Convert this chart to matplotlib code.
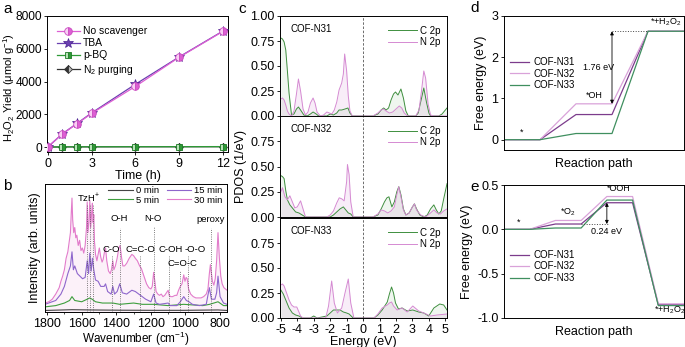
import numpy as np
import matplotlib
matplotlib.use('Agg')
import matplotlib.pyplot as plt
from matplotlib.ticker import MultipleLocator, FixedLocator, NullFormatter

plt.rcParams['font.family'] = ['Liberation Sans', 'DejaVu Sans']
plt.rcParams['mathtext.fontset'] = 'custom'
plt.rcParams['mathtext.rm'] = 'Liberation Sans'
plt.rcParams['mathtext.it'] = 'Liberation Sans:italic'
plt.rcParams['mathtext.bf'] = 'Liberation Sans:bold'
plt.rcParams['axes.unicode_minus'] = False
plt.rcParams['axes.linewidth'] = 0.7
for ax_ in ('xtick', 'ytick'):
    plt.rcParams[ax_ + '.direction'] = 'out'
    plt.rcParams[ax_ + '.major.size'] = 2.5
    plt.rcParams[ax_ + '.minor.size'] = 1.5
    plt.rcParams[ax_ + '.major.width'] = 0.6
    plt.rcParams[ax_ + '.minor.width'] = 0.5
    plt.rcParams[ax_ + '.labelsize'] = 9
    plt.rcParams[ax_ + '.major.pad'] = 1.5

# ---------------- data: panel a ----------------
time_h = [0, 1, 2, 3, 6, 9, 12]
no_scavenger = [0, 800, 1420, 2050, 3700, 5480, 7060]
tba = [0, 810, 1440, 2080, 3830, 5500, 7080]
pbq = [0, 15, 20, 20, 25, 25, 30]
n2_purging = [0, 10, 12, 15, 18, 20, 22]

# ---------------- data: panel b (Raman-like spectra) ----------------
w30 = [1812, 1790, 1770, 1750, 1730, 1720, 1710, 1700, 1690, 1680, 1672, 1665, 1660, 1656, 1652,
       1646, 1640, 1634, 1628, 1620, 1612, 1604, 1596, 1588, 1580, 1572, 1568, 1564, 1558, 1553,
       1548, 1542, 1538, 1534, 1530, 1526, 1520, 1512, 1505, 1498, 1490, 1482, 1476, 1468, 1462,
       1455, 1445, 1435, 1428, 1420, 1414, 1405, 1395, 1385, 1378, 1370, 1362, 1352, 1340, 1325,
       1310, 1300, 1290, 1278, 1265, 1255, 1245, 1235, 1225, 1212, 1200, 1192, 1184, 1178, 1170,
       1160, 1150, 1140, 1130, 1120, 1110, 1100, 1094, 1085, 1075, 1060, 1050, 1040, 1030, 1020,
       1010, 1003, 996, 990, 982, 970, 955, 940, 925, 910, 895, 880, 870, 862, 856, 850, 844, 836,
       828, 820, 812, 804, 796, 788, 778, 760]
v30 = [0.07, 0.08, 0.10, 0.14, 0.19, 0.24, 0.28, 0.33, 0.42, 0.47, 0.55, 0.62, 0.78, 0.89, 0.72,
       0.62, 0.66, 0.58, 0.60, 0.52, 0.56, 0.48, 0.50, 0.46, 0.52, 0.66, 0.86, 0.62, 0.70, 0.87,
       0.66, 0.78, 0.85, 0.70, 0.76, 0.55, 0.45, 0.40, 0.45, 0.50, 0.43, 0.39, 0.41, 0.47, 0.50,
       0.40, 0.32, 0.30, 0.33, 0.40, 0.33, 0.36, 0.42, 0.50, 0.52, 0.43, 0.36, 0.36, 0.38, 0.42,
       0.45, 0.44, 0.42, 0.40, 0.36, 0.34, 0.30, 0.26, 0.22, 0.19, 0.18, 0.20, 0.31, 0.25, 0.16,
       0.14, 0.13, 0.14, 0.12, 0.13, 0.15, 0.17, 0.13, 0.12, 0.12, 0.13, 0.13, 0.17, 0.20, 0.22,
       0.29, 0.24, 0.27, 0.26, 0.18, 0.14, 0.12, 0.11, 0.11, 0.11, 0.12, 0.14, 0.18, 0.30, 0.37,
       0.30, 0.24, 0.21, 0.26, 0.40, 0.62, 0.42, 0.28, 0.22, 0.19, 0.17]
w15 = [1812, 1750, 1720, 1700, 1680, 1665, 1656, 1648, 1640, 1625, 1610, 1595, 1580, 1568, 1560,
       1553, 1545, 1538, 1530, 1520, 1505, 1490, 1470, 1462, 1450, 1430, 1420, 1410, 1395, 1380,
       1365, 1340, 1310, 1290, 1260, 1230, 1200, 1184, 1170, 1150, 1100, 1090, 1050, 1030, 1010,
       995, 980, 960, 920, 880, 862, 850, 830, 820, 812, 800, 780, 760]
v15 = [0.06, 0.09, 0.14, 0.20, 0.30, 0.36, 0.47, 0.33, 0.36, 0.30, 0.28, 0.26, 0.27, 0.40, 0.30,
       0.46, 0.32, 0.42, 0.33, 0.25, 0.24, 0.20, 0.20, 0.22, 0.16, 0.14, 0.20, 0.14, 0.16, 0.22,
       0.15, 0.14, 0.17, 0.16, 0.13, 0.10, 0.08, 0.14, 0.07, 0.06, 0.07, 0.05, 0.05, 0.08, 0.12,
       0.09, 0.08, 0.06, 0.05, 0.06, 0.19, 0.10, 0.10, 0.15, 0.28, 0.12, 0.07, 0.06]
w5 = [1812, 1750, 1700, 1670, 1656, 1640, 1600, 1568, 1553, 1540, 1520, 1480, 1420, 1380, 1300,
      1250, 1184, 1100, 1010, 900, 860, 812, 780, 760]
v5 = [0.04, 0.05, 0.07, 0.09, 0.12, 0.09, 0.08, 0.10, 0.11, 0.10, 0.08, 0.07, 0.07, 0.06, 0.07,
      0.06, 0.06, 0.05, 0.06, 0.05, 0.06, 0.08, 0.05, 0.05]
w0 = [1812, 1656, 1553, 1380, 1184, 1010, 812, 760]
v0 = [0.012, 0.018, 0.016, 0.014, 0.013, 0.013, 0.016, 0.012]

b_labels = ['TzH$^{+}$', 'O-H', 'N-O', 'peroxy', 'C-O', 'C=C-O', 'C-OH', '-O-O', 'C=O-C']
b_label_w = [1562, 1383, 1187, 855, 1427, 1259, 1086, 946, 1017]
b_label_v = [0.89, 0.73, 0.73, 0.72, 0.49, 0.49, 0.49, 0.49, 0.38]
b_line_w = [1567, 1552, 1533, 1423, 1379, 1263, 1181, 1096, 1032, 988, 855]
b_line_top = [0.84, 0.84, 0.84, 0.44, 0.66, 0.44, 0.67, 0.44, 0.32, 0.44, 0.66]

# ---------------- data: panel c (PDOS) ----------------
n31_c_e = [-5.0, -4.9, -4.8, -4.7, -4.6, -4.5, -4.35, -4.2, -4.05, -3.93, -3.8, -3.6, -3.4, -3.2,
           -3.04, -2.85, -2.7, -2.2, -2.0, -1.8, -1.6, -1.46, -1.3, -1.1, -0.92, -0.8, -0.65,
           0.6, 0.9, 1.1, 1.25, 1.4, 1.55, 1.7, 1.85, 1.97, 2.12, 2.3, 2.45, 2.6, 2.75, 3.2, 3.35,
           3.5, 3.69, 3.85, 4.0, 4.1, 4.6, 4.8, 5.1]
n31_c_v = [0.78, 0.77, 0.74, 0.66, 0.45, 0.23, 0.01, 0.02, 0.07, 0.09, 0.06, 0.01, 0.0, 0.02,
           0.04, 0.02, 0.0, 0.0, 0.02, 0.01, 0.03, 0.06, 0.06, 0.07, 0.08, 0.03, 0.0,
           0.0, 0.02, 0.06, 0.08, 0.06, 0.08, 0.16, 0.22, 0.24, 0.21, 0.27, 0.18, 0.05, 0.0, 0.0,
           0.03, 0.14, 0.28, 0.14, 0.03, 0.0, 0.0, 0.02, 0.08]
n31_n_e = [-5.0, -4.9, -4.8, -4.7, -4.6, -4.5, -4.35, -4.2, -4.05, -3.93, -3.8, -3.65, -3.5, -3.35,
           -3.2, -3.04, -2.92, -2.8, -2.6, -2.4, -2.2, -2.05, -1.9, -1.75, -1.6, -1.46, -1.3,
           -1.2, -1.12, -1.0, -0.9, -0.8, -0.66,
           0.6, 0.9, 1.1, 1.25, 1.4, 1.6, 1.8, 2.0, 2.2, 2.35, 2.5, 2.7, 3.2, 3.4, 3.55, 3.69,
           3.8, 3.95, 4.1, 4.3, 5.1]
n31_n_v = [0.17, 0.18, 0.16, 0.11, 0.05, 0.02, 0.0, 0.05, 0.22, 0.37, 0.25, 0.07, 0.01, 0.04,
           0.13, 0.18, 0.13, 0.04, 0.0, 0.01, 0.04, 0.03, 0.02, 0.06, 0.14, 0.26, 0.33,
           0.42, 0.62, 0.45, 0.2, 0.05, 0.0,
           0.0, 0.03, 0.06, 0.07, 0.05, 0.03, 0.04, 0.07, 0.10, 0.08, 0.03, 0.0, 0.0, 0.06, 0.25,
           0.45, 0.38, 0.12, 0.01, 0.0, 0.0]
n32_c_e = [-5.0, -4.9, -4.8, -4.7, -4.6, -4.45, -4.3, -4.1, -3.9, -3.7, -3.5, -2.0, -1.8, -1.6,
           -1.4, -1.2, -1.05, -0.9, -0.75, -0.6,
           0.6, 0.9, 1.1, 1.3, 1.45, 1.57, 1.75, 1.9, 2.05, 2.17, 2.3, 2.45, 2.6, 2.8, 3.0, 3.12,
           3.25, 3.45, 3.7, 3.9, 4.1, 4.3, 4.45, 4.6, 4.75, 4.9, 5.1]
n32_c_v = [0.41, 0.40, 0.38, 0.26, 0.17, 0.12, 0.09, 0.05, 0.04, 0.02, 0.0, 0.0, 0.02, 0.05,
           0.08, 0.10, 0.07, 0.04, 0.03, 0.0,
           0.0, 0.02, 0.08, 0.15, 0.19, 0.20, 0.10, 0.15, 0.25, 0.30, 0.22, 0.08, 0.02, 0.04, 0.10,
           0.13, 0.08, 0.02, 0.0, 0.02, 0.08, 0.12, 0.07, 0.03, 0.06, 0.18, 0.33]
n32_n_e = [-5.0, -4.9, -4.75, -4.6, -4.45, -4.3, -4.15, -4.0, -3.8, -3.65, -3.5, -2.2, -2.0, -1.8,
           -1.6, -1.45, -1.3, -1.15, -1.0, -0.95, -0.85, -0.75, -0.6,
           0.6, 0.9, 1.1, 1.3, 1.5, 1.7, 1.9, 2.05, 2.17, 2.3, 2.45, 2.6, 2.8, 3.0, 3.12, 3.25,
           3.5, 3.8, 4.1, 4.3, 4.5, 4.7, 4.9, 5.1]
n32_n_v = [0.25, 0.29, 0.20, 0.17, 0.21, 0.15, 0.09, 0.10, 0.16, 0.08, 0.0, 0.0, 0.02, 0.06,
           0.14, 0.19, 0.18, 0.16, 0.35, 0.52, 0.42, 0.15, 0.0,
           0.0, 0.03, 0.07, 0.06, 0.04, 0.06, 0.10, 0.22, 0.30, 0.20, 0.07, 0.02, 0.04, 0.10,
           0.13, 0.07, 0.02, 0.0, 0.04, 0.07, 0.04, 0.03, 0.06, 0.08]
n33_c_e = [-5.0, -4.85, -4.7, -4.5, -4.3, -4.1, -3.9, -3.7, -3.2, -3.0, -2.8, -2.2, -2.0, -1.8,
           -1.6, -1.4, -1.2, -1.0, -0.85, -0.6,
           0.66, 0.9, 1.16, 1.47, 1.6, 1.73, 1.85, 1.97, 2.15, 2.37, 2.68, 3.02, 3.38, 3.69, 3.99,
           4.3, 4.66, 4.9, 5.1]
n33_c_v = [0.28, 0.24, 0.18, 0.10, 0.05, 0.03, 0.02, 0.0, 0.0, 0.02, 0.0, 0.02, 0.05, 0.08,
           0.08, 0.08, 0.06, 0.05, 0.04, 0.0,
           0.0, 0.03, 0.08, 0.16, 0.24, 0.31, 0.25, 0.15, 0.09, 0.10, 0.07, 0.08, 0.06, 0.05, 0.02,
           0.10, 0.14, 0.13, 0.08]
n33_n_e = [-5.0, -4.9, -4.8, -4.65, -4.5, -4.35, -4.2, -4.03, -3.9, -3.8, -3.65, -2.27, -2.1,
           -1.91, -1.75, -1.56, -1.3, -1.1, -0.9, -0.75, -0.56,
           0.66, 0.9, 1.16, 1.47, 1.6, 1.73, 1.85, 2.07, 2.37, 2.68, 3.02, 3.38, 3.69, 4.1, 4.5,
           5.1]
n33_n_v = [0.33, 0.34, 0.32, 0.25, 0.18, 0.13, 0.11, 0.11, 0.06, 0.02, 0.0, 0.0, 0.12,
           0.37, 0.15, 0.05, 0.10, 0.25, 0.39, 0.15, 0.0,
           0.0, 0.04, 0.10, 0.13, 0.15, 0.16, 0.12, 0.08, 0.10, 0.06, 0.12, 0.07, 0.05, 0.02,
           0.03, 0.04]
c_names = ['COF-N31', 'COF-N32', 'COF-N33']

# ---------------- data: panels d, e (free energy) ----------------
cof_names = ['COF-N31', 'COF-N32', 'COF-N33']
d_states = ['*', '*OH', '*+H$_2$O$_2$']
d_levels = [[0, 0.61, 2.63], [0, 0.87, 2.63], [0, 0.15, 2.63]]
e_states = ['*', '*O$_2$', '*OOH', '*+H$_2$O$_2$']
e_levels = [[0, 0.06, 0.30, -0.85], [0, 0.10, 0.37, -0.84], [0, 0.015, 0.33, -0.86]]

# ---------------- styles ----------------
W, H = 685, 347
fig = plt.figure(figsize=(W / 100, H / 100), dpi=100)


def px_axes(l, t, r, b):
    return fig.add_axes([l / W, 1 - b / H, (r - l) / W, (b - t) / H])


# ================= panel a =================
axa = px_axes(47, 16, 228, 152)
pink = '#DD5FD3'
axa.plot(time_h, n2_purging, '-', color='#333333', lw=0.9, marker='D', ms=4.5,
         fillstyle='left', mfc='#333333', mfcalt='#BBBBBB', mec='#333333', mew=0.6,
         label='N$_2$ purging', zorder=2)
axa.plot(time_h, pbq, '-', color='#2E9A36', lw=0.9, marker='s', ms=4.5,
         fillstyle='right', mfc='#2E9A36', mfcalt='#B9E4B9', mec='#1E7A26', mew=0.6,
         label='p-BQ', zorder=3)
axa.plot(time_h, tba, '-', color='#6A40B0', lw=0.9, marker='*', ms=7,
         mfc='#6A40B0', mec='#4A2090', mew=0.5, label='TBA', zorder=4)
axa.plot(time_h, no_scavenger, '-', color=pink, lw=0.9, marker='o', ms=5.5,
         fillstyle='right', mfc=pink, mfcalt='#F8D0F4', mec='#C94AC0', mew=0.6,
         label='No scavenger', zorder=5)
axa.set_xlim(-0.05, 12.35)
axa.set_ylim(-300, 8000)
axa.xaxis.set_major_locator(FixedLocator([0, 3, 6, 9, 12]))
axa.yaxis.set_major_locator(FixedLocator([0, 2000, 4000, 6000, 8000]))
axa.tick_params(axis='y', labelsize=8.6, pad=1.0)
axa.set_xlabel('Time (h)', fontsize=9, labelpad=0.5)
axa.set_ylabel('H$_2$O$_2$ Yield (μmol g$^{-1}$)', fontsize=8.0)
axa.yaxis.set_label_coords(-0.168, 0.47)
h, l = axa.get_legend_handles_labels()
axa.legend(h[::-1], l[::-1], loc='upper left', bbox_to_anchor=(0.02, 0.97), frameon=False,
           fontsize=7.5, handlelength=2.2, handletextpad=0.3, labelspacing=0.2,
           borderaxespad=0.2)

# ================= panel b =================
axb = px_axes(45, 184, 227, 312)
c30, c15, c5, c0 = '#E27CCB', '#8E66CC', '#3E9E3E', '#454545'
axb.fill_between(w30, v30, 0, color=c30, alpha=0.10, lw=0)
axb.plot(w0, v0, color=c0, lw=0.8, label='0 min')
axb.plot(w5, v5, color=c5, lw=0.8, label='5 min')
axb.plot(w15, v15, color=c15, lw=0.8, label='15 min')
axb.plot(w30, v30, color=c30, lw=0.8, label='30 min')
for wv, top in zip(b_line_w, b_line_top):
    axb.plot([wv, wv], [0, top], ':', color='#555555', lw=0.6)
for txt, wv, vv in zip(b_labels, b_label_w, b_label_v):
    axb.text(wv, vv, txt, fontsize=6.8, ha='center', va='center')
axb.set_xlim(1812, 760)
axb.set_ylim(0, 1)
axb.xaxis.set_major_locator(FixedLocator([1800, 1600, 1400, 1200, 1000, 800]))
axb.xaxis.set_minor_locator(MultipleLocator(100))
axb.set_yticks([])
axb.set_xlabel('Wavenumber (cm$^{-1}$)', fontsize=8.5, labelpad=0)
axb.set_ylabel('Intensity (arb. units)', fontsize=9, labelpad=3)
axb.legend(loc='upper right', bbox_to_anchor=(1.0, 1.02), ncol=2, frameon=False, fontsize=6.8,
           handlelength=2.6, handletextpad=0.3, labelspacing=0.05, columnspacing=0.8,
           borderaxespad=0.1)

# ================= panel c =================
cg, cn = '#3F8F3F', '#D58AD2'
c_rows = [(16, 116), (116, 217), (218, 318)]
c_data = [(n31_c_e, n31_c_v, n31_n_e, n31_n_v),
          (n32_c_e, n32_c_v, n32_n_e, n32_n_v),
          (n33_c_e, n33_c_v, n33_n_e, n33_n_v)]
c_axes = []
for i, ((t, b), (ce, cv, ne, nv)) in enumerate(zip(c_rows, c_data)):
    ax = px_axes(280, t, 447, b)
    ax.fill_between(ne, nv, 0, color=cn, alpha=0.15, lw=0)
    ax.fill_between(ce, cv, 0, color=cg, alpha=0.08, lw=0)
    ax.plot(ce, cv, color=cg, lw=0.7, label='C 2p')
    ax.plot(ne, nv, color=cn, lw=0.7, label='N 2p')
    ax.axvline(0, color='#555555', lw=0.6, ls=(0, (3, 2)))
    ax.set_xlim(-5.05, 5.1)
    ax.set_ylim(0, 1.0)
    ax.xaxis.set_major_locator(MultipleLocator(1))
    if i == 0:
        ax.yaxis.set_major_locator(FixedLocator([0, 0.25, 0.5, 0.75, 1.0]))
    else:
        ax.yaxis.set_major_locator(FixedLocator([0, 0.25, 0.5, 0.75]))
    ax.yaxis.set_major_formatter(matplotlib.ticker.FormatStrFormatter('%.2f'))
    if i < 2:
        ax.xaxis.set_major_formatter(NullFormatter())
    ax.text(0.06, 0.87, c_names[i], transform=ax.transAxes, fontsize=7, ha='left', va='center')
    ax.legend(loc='upper right', bbox_to_anchor=(0.99, 0.95), frameon=False, fontsize=7,
              handlelength=3.0, handletextpad=0.3, labelspacing=0.15, borderaxespad=0.1)
    c_axes.append(ax)
c_axes[1].set_ylabel('PDOS (1/eV)', fontsize=9, labelpad=2)
c_axes[2].set_xlabel('Energy (eV)', fontsize=9, labelpad=0)

# ================= panels d, e =================
col31, col32, col33 = '#7C3C8C', '#D9A2D9', '#3F8F5F'
fe_cols = [col31, col32, col33]


def step_path(levels):
    xs, ys = [], []
    for i, lv in enumerate(levels):
        xs += [2 * i, 2 * i + 1]
        ys += [lv, lv]
    return xs, ys


axd = px_axes(504, 16, 684, 150)
for name, lv, col in zip(cof_names, d_levels, fe_cols):
    xs, ys = step_path(lv)
    axd.plot(xs, ys, color=col, lw=0.9, label=name)
axd.set_xlim(0, 5)
axd.set_ylim(-0.25, 3.0)
axd.set_xticks([])
axd.yaxis.set_major_locator(FixedLocator([0, 1, 2, 3]))
axd.set_xlabel('Reaction path', fontsize=9, labelpad=6)
axd.set_ylabel('Free energy (eV)', fontsize=9, labelpad=3)
axd.annotate('', xy=(3.0, d_levels[1][2]), xytext=(3.0, d_levels[1][1]),
             arrowprops=dict(arrowstyle='<|-|>', lw=0.6, color='k', mutation_scale=5,
                             shrinkA=0, shrinkB=0))
axd.plot([3.0, 4.0], [d_levels[1][2]] * 2, ':', color='#444444', lw=0.7)
axd.text(2.62, 1.74, '%.2f eV' % (d_levels[1][2] - d_levels[1][1]), fontsize=6.5,
         ha='center', va='center')
for (sx, sy), s in zip([(0.5, 0.18), (2.5, 1.07), (4.5, 2.86)], d_states):
    axd.text(sx, sy, s, fontsize=6.5, ha='center', va='center')
axd.legend(loc='upper left', bbox_to_anchor=(0.0, 0.735), frameon=False, fontsize=7,
           handlelength=2.0, handletextpad=0.4, labelspacing=0.15, borderaxespad=0.2)

axe = px_axes(504, 185, 684, 318)
for name, lv, col in zip(cof_names, e_levels, fe_cols):
    xs, ys = step_path(lv)
    axe.plot(xs, ys, color=col, lw=0.9, label=name)
axe.set_xlim(0, 7)
axe.set_ylim(-1.0, 0.5)
axe.set_xticks([])
axe.yaxis.set_major_locator(FixedLocator([-1.0, -0.5, 0.0, 0.5]))
axe.yaxis.set_major_formatter(matplotlib.ticker.FormatStrFormatter('%.1f'))
axe.set_xlabel('Reaction path', fontsize=9, labelpad=6)
axe.set_ylabel('Free energy (eV)', fontsize=9, labelpad=3)
axe.annotate('', xy=(4.0, e_levels[0][2]), xytext=(4.0, e_levels[0][1]),
             arrowprops=dict(arrowstyle='<|-|>', lw=0.6, color='k', mutation_scale=5,
                             shrinkA=0, shrinkB=0))
axe.plot([3.0, 4.1], [e_levels[0][1]] * 2, ':', color='#444444', lw=0.7)
axe.text(4.0, -0.03, '%.2f eV' % (e_levels[0][2] - e_levels[0][1]), fontsize=6.5,
         ha='center', va='center')
for (sx, sy), s in zip([(0.55, 0.08), (2.5, 0.19), (4.45, 0.46), (6.45, -0.91)], e_states):
    axe.text(sx, sy, s, fontsize=6.5, ha='center', va='center')
axe.legend(loc='upper left', bbox_to_anchor=(0.0, 0.555), frameon=False, fontsize=7,
           handlelength=2.0, handletextpad=0.4, labelspacing=0.15, borderaxespad=0.2)

# ================= panel letters =================
for s, x, y in [('a', 3, 9), ('b', 3, 186), ('c', 238, 9), ('d', 470, 8), ('e', 470, 187)]:
    fig.text(x / W, 1 - y / H, s, fontsize=11, ha='left', va='center')

fig.savefig('out.png', dpi=100)
